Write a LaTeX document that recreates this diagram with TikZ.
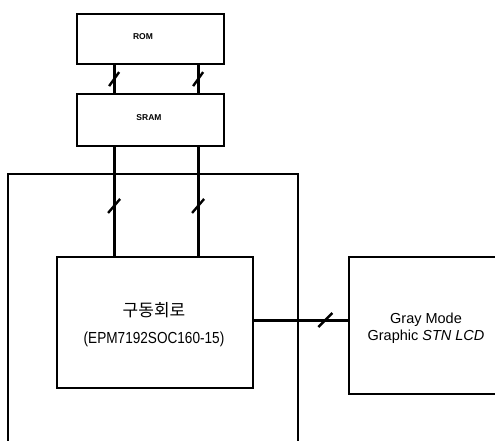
\documentclass[tikz,border=0pt]{standalone}
\usepackage{fontspec}
\setmainfont{Liberation Sans}
\newfontfamily\kofont{Noto Sans CJK KR}
\newfontfamily\narrowfont[FakeStretch=0.85]{Liberation Sans}
\usetikzlibrary{calc}
\tikzset{
  box/.style={draw, line width=2.2pt, rectangle, inner sep=0pt, anchor=north west},
  bus/.style={line width=3pt},
  edge/.style={line width=2.2pt},
  slashmark/.style={line width=2.4pt},
  small/.style={font=\fontsize{8.5}{10}\selectfont\bfseries},
}
\begin{document}
\begin{tikzpicture}[x=1pt,y=-1pt]
\useasboundingbox (0,0) rectangle (495,441);
% boxes
\node[box, minimum width=147pt, minimum height=50pt] (rom) at (76,13) {};
\node[small] (romt) at (143,37) {ROM};
\node[box, minimum width=147pt, minimum height=52pt] (sram) at (76,93) {};
\node[small] (sramt) at (149,118) {SRAM};
\node[box, minimum width=196pt, minimum height=131pt] (drv) at (56,256) {};
\node[font=\kofont\fontsize{17}{19}\selectfont] (drvk) at (154,310) {구동회로};
\node[font=\narrowfont\fontsize{16}{18}\selectfont] (drve) at (154,339) {(EPM7192SOC160-15)};
% outer (cut-off) box
\coordinate (o1) at (8,442);
\coordinate (o2) at (8,174);
\coordinate (o3) at (298,174);
\coordinate (o4) at (298,442);
\draw[edge] (o1) -- (o2) -- (o3) -- (o4);
% LCD (cut-off) box
\coordinate (l1) at (497,257);
\coordinate (l2) at (349,257);
\coordinate (l3) at (349,394);
\coordinate (l4) at (497,394);
\draw[edge] (l1) -- (l2) -- (l3) -- (l4);
\node[align=center, font=\fontsize{14.5}{17}\selectfont] (lcdt) at (426,328) {Gray Mode\\Graphic \textit{STN LCD}};
% connectors ROM-SRAM
\coordinate (ra) at ([xshift=-36.5pt]rom.south);
\coordinate (rb) at ([xshift=47.5pt]rom.south);
\draw[bus] (ra) -- (ra |- sram.north) coordinate[pos=0.5] (sa);
\draw[bus] (rb) -- (rb |- sram.north) coordinate[pos=0.5] (sb);
\draw[slashmark] ($(sa)+(-5,7)$) -- ($(sa)+(5,-7)$);
\draw[slashmark] ($(sb)+(-5,7)$) -- ($(sb)+(5,-7)$);
% connectors SRAM-driver
\coordinate (da) at ([xshift=-36.5pt]sram.south);
\coordinate (db) at ([xshift=47.5pt]sram.south);
\draw[bus] (da) -- (da |- drv.north) coordinate[pos=0.54] (ta);
\draw[bus] (db) -- (db |- drv.north) coordinate[pos=0.54] (tb);
\draw[slashmark] ($(ta)+(-6,7)$) -- ($(ta)+(6,-7)$);
\draw[slashmark] ($(tb)+(-6,7)$) -- ($(tb)+(6,-7)$);
% driver - LCD
\coordinate (dl) at (drv.east |- 0,320);
\draw[bus] (dl) -- (dl -| l2) coordinate[pos=0.75] (ua);
\draw[slashmark] ($(ua)+(-7,7)$) -- ($(ua)+(7,-7)$);
\end{tikzpicture}
\end{document}
